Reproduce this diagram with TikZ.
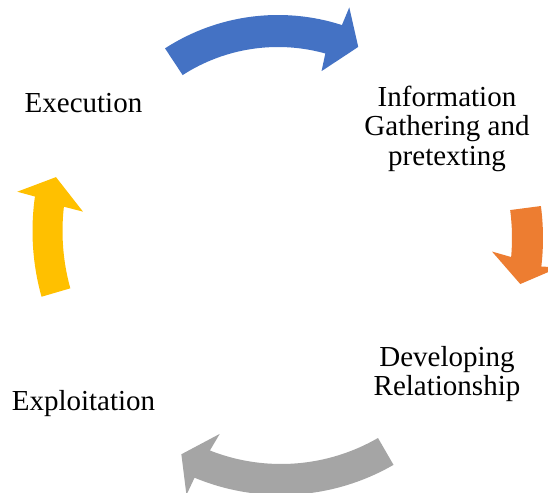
\documentclass[tikz,border=0pt]{standalone}
\usepackage{fontspec}
\setmainfont{Liberation Serif}
\definecolor{arrowblue}{HTML}{4472C4}
\definecolor{arroworange}{HTML}{ED7D31}
\definecolor{arrowgray}{HTML}{A5A5A5}
\definecolor{arrowyellow}{HTML}{FFC000}
\tikzset{
  cyclearrow/.style={draw=none},
  steplabel/.style={inner sep=0pt, align=center, font=\fontsize{29}{29.5}\selectfont}
}
\begin{document}
\begin{tikzpicture}[x=1pt,y=1pt]
\useasboundingbox (0,0) rectangle (548,492);
\fill[white] (0,0) rectangle (548,492);
% labels
\node[steplabel] (exec) at (83.5,389) {Execution};
\node[steplabel] (info) at (447,363.4) {Information\\Gathering and\\pretexting};
\node[steplabel] (dev) at (447,117.8) {Developing\\Relationship};
\node[steplabel] (expl) at (83.5,88.7) {Exploitation};
% blue arrow (top)
\begin{scope}[shift={(278,269)}]
\fill[cyclearrow, arrowblue] (122.9:208pt) arc[start angle=122.9, end angle=72.1, radius=208pt]
  -- (71.7:227pt) -- (65.5:193.5pt) -- (74.0:158pt) -- (74.4:176pt)
  arc[start angle=74.4, end angle=122.8, radius=176pt] -- cycle;
\end{scope}
% orange arrow (right)
\begin{scope}[shift={(298,254)}]
\fill[cyclearrow, arroworange] (7.5:245pt) arc[start angle=7.5, end angle=-6.7, radius=245pt]
  -- (-6.4:263pt) -- (-11.7:227pt) -- (-4.0:194.5pt) -- (-5.1:214pt)
  arc[start angle=-5.1, end angle=7.5, radius=214pt] -- cycle;
\end{scope}
% gray arrow (bottom)
\begin{scope}[shift={(281,222)}]
\fill[cyclearrow, arrowgray] (-60:225pt) arc[start angle=-60, end angle=-112.6, radius=225pt]
  -- (-112.8:244pt) -- (-118.4:209.5pt) -- (-110.5:175pt) -- (-111.5:194pt)
  arc[start angle=-111.5, end angle=-60, radius=194pt] -- cycle;
\end{scope}
% yellow arrow (left)
\begin{scope}[shift={(277,261)}]
\fill[cyclearrow, arrowyellow] (195.6:244.5pt) arc[start angle=195.6, end angle=171.9, radius=244.5pt]
  -- (171.4:262.7pt) -- (166.3:227.5pt) -- (174.3:195pt) -- (173.5:214.5pt)
  arc[start angle=173.5, end angle=195.5, radius=214.5pt] -- cycle;
\end{scope}
\end{tikzpicture}
\end{document}
